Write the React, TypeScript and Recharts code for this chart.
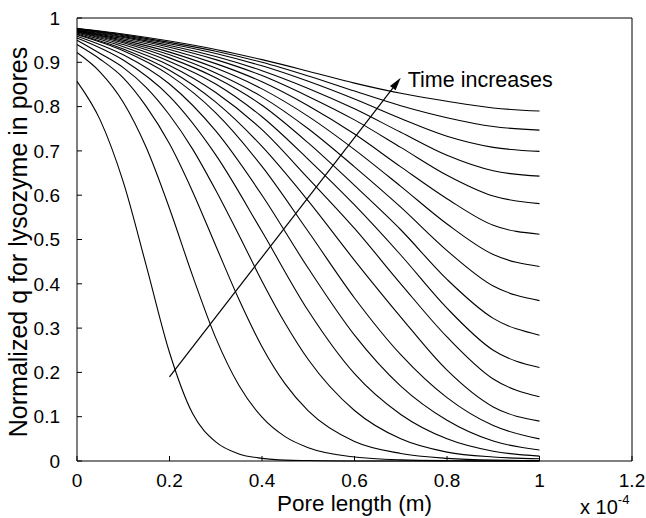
import { LineChart, Line, XAxis, YAxis, ReferenceLine } from "recharts";

// pore position (x 10^-4 m): fine grid for the early, steep fronts, coarse grid for the rest
const X_FINE = [0, 0.05, 0.1, 0.15, 0.2, 0.25, 0.3, 0.35, 0.4, 0.45, 0.5, 0.6, 0.7, 0.8, 0.9, 1.0];
const X_COARSE = [0, 0.1, 0.2, 0.3, 0.4, 0.5, 0.6, 0.7, 0.8, 0.9, 1.0];

const X_TICKS = [0, 0.2, 0.4, 0.6, 0.8, 1.0, 1.2];
const Y_TICKS = [0, 0.1, 0.2, 0.3, 0.4, 0.5, 0.6, 0.7, 0.8, 0.9, 1.0];

// normalized q, one array per time step (earliest first)
const q01 = [0.857, 0.77, 0.63, 0.44, 0.245, 0.107, 0.043, 0.016, 0.006, 0.002, 0.001, 0, 0, 0, 0, 0];
const q02 = [0.922, 0.878, 0.81, 0.707, 0.57, 0.418, 0.278, 0.171, 0.099, 0.055, 0.03, 0.009, 0.0025, 0.0007, 0.0002, 0];
const q03 = [0.94, 0.907, 0.865, 0.8, 0.716, 0.608, 0.486, 0.365, 0.258, 0.174, 0.113, 0.044, 0.017, 0.006, 0.002, 0.001];
const q04 = [0.95, 0.92, 0.888, 0.843, 0.781, 0.704, 0.611, 0.51, 0.406, 0.311, 0.229, 0.114, 0.05, 0.02, 0.009, 0.005];
const q05 = [0.955, 0.905, 0.823, 0.691, 0.518, 0.339, 0.197, 0.105, 0.05, 0.022, 0.011];
const q06 = [0.959, 0.917, 0.851, 0.745, 0.6, 0.435, 0.284, 0.169, 0.092, 0.045, 0.025];
const q07 = [0.962, 0.926, 0.871, 0.786, 0.665, 0.518, 0.368, 0.24, 0.143, 0.08, 0.05];
const q08 = [0.964, 0.93, 0.882, 0.81, 0.71, 0.587, 0.453, 0.325, 0.205, 0.122, 0.09];
const q09 = [0.966, 0.935, 0.893, 0.832, 0.748, 0.638, 0.525, 0.4, 0.28, 0.185, 0.145];
const q10 = [0.968, 0.94, 0.902, 0.851, 0.777, 0.681, 0.578, 0.465, 0.345, 0.25, 0.211];
const q11 = [0.969, 0.944, 0.91, 0.865, 0.803, 0.718, 0.622, 0.522, 0.41, 0.322, 0.284];
const q12 = [0.97, 0.947, 0.917, 0.876, 0.822, 0.75, 0.664, 0.573, 0.475, 0.395, 0.362];
const q13 = [0.971, 0.95, 0.923, 0.887, 0.84, 0.778, 0.703, 0.62, 0.535, 0.466, 0.439];
const q14 = [0.972, 0.953, 0.929, 0.897, 0.856, 0.802, 0.738, 0.664, 0.592, 0.532, 0.512];
const q15 = [0.973, 0.956, 0.934, 0.906, 0.87, 0.823, 0.77, 0.708, 0.645, 0.598, 0.581];
const q16 = [0.974, 0.958, 0.938, 0.913, 0.881, 0.841, 0.795, 0.742, 0.69, 0.655, 0.643];
const q17 = [0.975, 0.96, 0.942, 0.92, 0.892, 0.857, 0.817, 0.773, 0.733, 0.708, 0.699];
const q18 = [0.976, 0.962, 0.945, 0.925, 0.9, 0.869, 0.835, 0.802, 0.775, 0.755, 0.747];
const q19 = [0.977, 0.964, 0.948, 0.929, 0.906, 0.88, 0.853, 0.83, 0.812, 0.797, 0.79];

// arrow annotation, data coordinates
const ARROW_START = { x: 0.2, y: 0.19 };
const ARROW_END = { x: 0.7, y: 0.865 };

const FONT = '"Liberation Sans", Arial, Helvetica, sans-serif';

const CURVES = [
  [X_FINE, q01], [X_FINE, q02], [X_FINE, q03], [X_FINE, q04],
  [X_COARSE, q05], [X_COARSE, q06], [X_COARSE, q07], [X_COARSE, q08],
  [X_COARSE, q09], [X_COARSE, q10], [X_COARSE, q11], [X_COARSE, q12],
  [X_COARSE, q13], [X_COARSE, q14], [X_COARSE, q15], [X_COARSE, q16],
  [X_COARSE, q17], [X_COARSE, q18], [X_COARSE, q19],
].map(([xs, qs]) => xs.map((x, i) => ({ x, y: qs[i] })));

const fmt = (v: number) => String(Math.round(v * 10) / 10);

// plot box inside the svg (svg sits at the page origin)
const PLOT_L = 77;
const PLOT_R = 632;

function XTitle() {
  return (
    <g fontFamily={FONT} fill="#000">
      <text x={(PLOT_L + PLOT_R) / 2} y={511} textAnchor="middle" fontSize={22.5}>
        Pore length (m)
      </text>
      <text x={580} y={514} fontSize={20}>
        x 10
        <tspan dy={-10} fontSize={13}>-4</tspan>
      </text>
    </g>
  );
}

function YTitle() {
  const cx = 18;
  const cy = 242;
  return (
    <text
      x={cx}
      y={cy}
      transform={`rotate(-90, ${cx}, ${cy})`}
      textAnchor="middle"
      dominantBaseline="central"
      fontFamily={FONT}
      fontSize={25}
      fill="#000"
    >
      Normalized q for lysozyme in pores
    </text>
  );
}

// eslint-disable-next-line @typescript-eslint/no-explicit-any
function Arrow(props: any) {
  const { x1, y1, x2, y2 } = props;
  const ang = Math.atan2(y2 - y1, x2 - x1);
  const len = 13;
  const half = 3.5;
  const bx = x2 - len * Math.cos(ang);
  const by = y2 - len * Math.sin(ang);
  const px = -Math.sin(ang) * half;
  const py = Math.cos(ang) * half;
  return (
    <g>
      <line x1={x1} y1={y1} x2={bx} y2={by} stroke="#000" strokeWidth={1.2} />
      <polygon
        points={`${x2},${y2} ${bx + px},${by + py} ${bx - px},${by - py}`}
        fill="#000"
      />
      <text x={x2 + 7} y={y2 + 9} fontFamily={FONT} fontSize={21.5} fill="#000">
        Time increases
      </text>
    </g>
  );
}

export default function App() {
  const tickStyle = { fill: "#000", fontSize: 19, fontFamily: FONT };
  return (
    <div style={{ position: "absolute", left: 0, top: 0 }}>
      <LineChart
        width={646}
        height={518}
        margin={{ top: 17, right: 13, bottom: 12, left: 17 }}
      >
        <XAxis
          dataKey="x"
          type="number"
          domain={[0, 1.2]}
          ticks={X_TICKS}
          tickFormatter={fmt}
          tick={tickStyle}
          tickSize={-5}
          tickMargin={18}
          height={45}
          stroke="#000"
          interval={0}
          label={<XTitle />}
        />
        <XAxis
          xAxisId="top"
          orientation="top"
          type="number"
          domain={[0, 1.2]}
          ticks={X_TICKS}
          tick={false}
          tickSize={-5}
          height={1}
          stroke="#000"
        />
        <YAxis
          type="number"
          domain={[0, 1]}
          ticks={Y_TICKS}
          tickFormatter={fmt}
          tick={tickStyle}
          tickSize={-5}
          tickMargin={22}
          width={60}
          stroke="#000"
          interval={0}
          label={<YTitle />}
        />
        <YAxis
          yAxisId="right"
          orientation="right"
          type="number"
          domain={[0, 1]}
          ticks={Y_TICKS}
          tick={false}
          tickSize={-5}
          width={1}
          stroke="#000"
        />
        {CURVES.map((pts, i) => (
          <Line
            key={i}
            data={pts}
            dataKey="y"
            type="monotone"
            stroke="#000"
            strokeWidth={1.1}
            dot={false}
            activeDot={false}
            isAnimationActive={false}
          />
        ))}
        <ReferenceLine
          segment={[ARROW_START, ARROW_END]}
          shape={<Arrow />}
          ifOverflow="visible"
        />
      </LineChart>
    </div>
  );
}
